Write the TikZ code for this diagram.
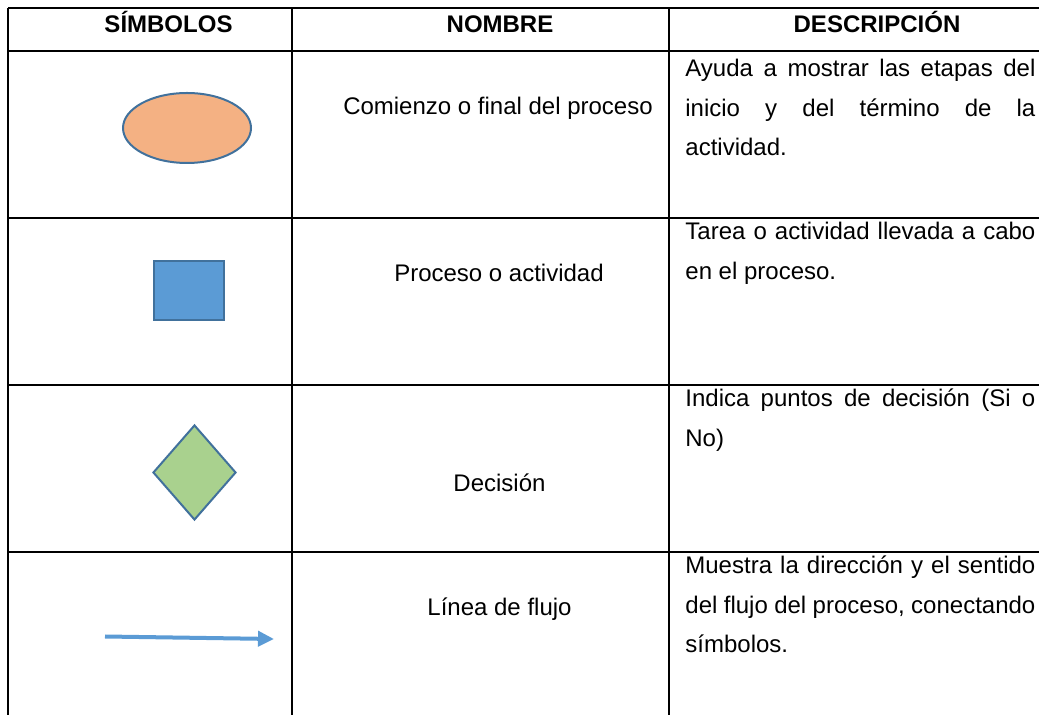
\documentclass[tikz,border=0pt]{standalone}
\usepackage{fontspec}
\setmainfont{Liberation Sans}
\usetikzlibrary{shapes.geometric, arrows.meta}
\definecolor{symborder}{HTML}{41719C}
\definecolor{symblue}{HTML}{5B9BD5}
\definecolor{symorange}{HTML}{F4B183}
\definecolor{symgreen}{HTML}{A9D18E}
\tikzset{
    gridline/.style={line width=0.75pt, black},
    headtext/.style={font=\fontsize{12}{14}\selectfont\bfseries, inner sep=0pt,
        anchor=base},
    nametext/.style={font=\fontsize{12}{14}\selectfont, inner sep=0pt,
        anchor=base},
    desctext/.style={font=\fontsize{12}{19.75}\selectfont, inner sep=0pt,
        anchor=base west, text width=175pt, align=justify},
    symbol/.style={draw=symborder, line width=1pt, inner sep=0pt},
    flowarrow/.style={symblue, line width=2pt,
        -{Triangle[length=8pt, width=7.5pt]}},
}

\begin{document}
\begin{tikzpicture}[x=0.5pt, y=-0.5pt]
        \useasboundingbox (0, 0) rectangle (1039, 715);
        % table rules
        \foreach \y in {8, 51, 218, 385, 552}
            \draw[gridline] (8, \y) -- (1039, \y);
        \foreach \x in {8, 292, 669}
            \draw[gridline] (\x, 8) -- (\x, 715);
        % header
        \node[headtext] (hsym) at (168.5, 33) {SÍMBOLOS};
        \node[headtext] (hname) at (500, 33) {NOMBRE};
        \node[headtext] (hdesc) at (877, 33) {DESCRIPCIÓN};
        % symbols
        \node[symbol, ellipse, fill=symorange, minimum width=64pt,
            minimum height=35pt] (terminal) at (187, 128) {};
        \node[symbol, rectangle, fill=symblue, minimum width=35pt,
            minimum height=29.5pt] (process) at (189, 290.5) {};
        \node[symbol, diamond, fill=symgreen, minimum width=41.5pt,
            minimum height=47.5pt] (decision) at (194.5, 472.5) {};
        \coordinate (flowstart) at (105, 636.5);
        \coordinate (flowend) at (274, 639);
        \draw[flowarrow] (flowstart) -- (flowend);
        % names
        \node[nametext] (nterminal) at (498, 115) {Comienzo o final del proceso};
        \node[nametext] (nprocess) at (499, 282) {Proceso o actividad};
        \node[nametext] (ndecision) at (499.5, 492) {Decisión};
        \node[nametext] (nflow) at (499.5, 616) {Línea de flujo};
        % descriptions
        \node[desctext] (dterminal) at (685, 77) {Ayuda a mostrar las etapas
            del\linebreak inicio y del término de la\linebreak actividad.};
        \node[desctext] (dprocess) at (685, 240) {Tarea o actividad llevada a
            cabo\linebreak en el proceso.};
        \node[desctext] (ddecision) at (685, 407) {Indica puntos de decisión
            (Si o\linebreak No)};
        \node[desctext] (dflow) at (685, 574) {Muestra la dirección y el
            sentido\linebreak del flujo del proceso, conectando\linebreak
            símbolos.};
    \end{tikzpicture}
\end{document}
